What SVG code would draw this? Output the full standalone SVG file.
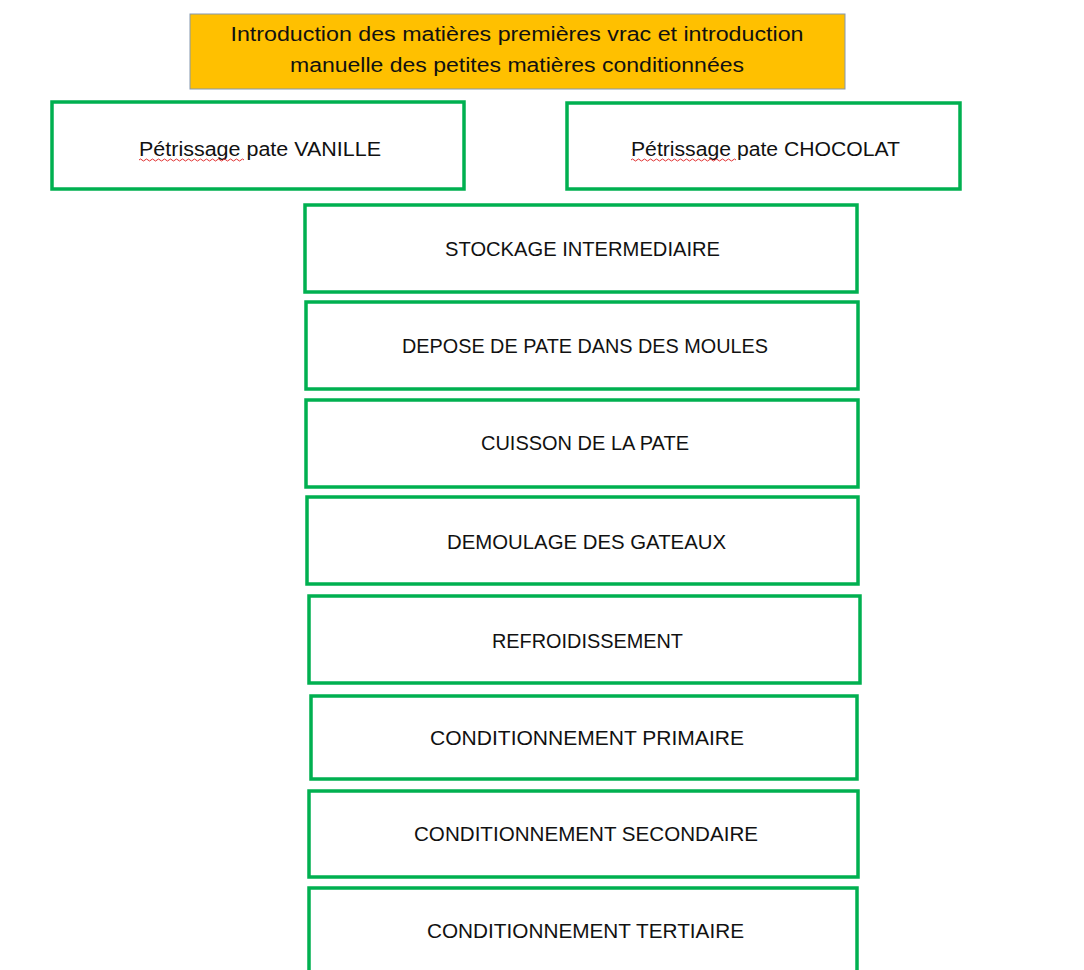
<svg xmlns="http://www.w3.org/2000/svg" width="1084" height="970" viewBox="0 0 1084 970">
<defs>
<style>
.box{fill:#ffffff;stroke:#00B050;stroke-width:3.5}
.t{font-family:"Liberation Sans","Open Sans",Arial,sans-serif;font-size:20px;fill:#111111;text-anchor:middle}
.squig{fill:none;stroke:#e03030;stroke-width:1}
</style>
</defs>
<rect width="1084" height="970" fill="#ffffff"/>
<g id="intro">
<rect x="190" y="14" width="655" height="75" fill="#FFC000" stroke="#8497B0" stroke-width="1"/>
<text class="t" x="517" y="41" textLength="573" lengthAdjust="spacingAndGlyphs">Introduction des matières premières vrac et introduction</text>
<text class="t" x="517" y="72" textLength="454" lengthAdjust="spacingAndGlyphs">manuelle des petites matières conditionnées</text>
</g>
<g id="vanille">
<rect class="box" x="52" y="102" width="412" height="87"/>
<text class="t" x="260" y="156" textLength="242" lengthAdjust="spacingAndGlyphs">Pétrissage pate VANILLE</text>
<path class="squig" d="M139 160 q1.5 -2 3 0 t3 0 t3 0 t3 0 t3 0 t3 0 t3 0 t3 0 t3 0 t3 0 t3 0 t3 0 t3 0 t3 0 t3 0 t3 0 t3 0 t3 0 t3 0 t3 0 t3 0 t3 0 t3 0 t3 0 t3 0 t3 0 t3 0 t3 0 t3 0 t3 0 t3 0 t3 0 t3 0 t3 0 t3 0"/>
</g>
<g id="chocolat">
<rect class="box" x="567" y="103" width="393" height="86"/>
<text class="t" x="765.5" y="156" textLength="269" lengthAdjust="spacingAndGlyphs">Pétrissage pate CHOCOLAT</text>
<path class="squig" d="M631 160 q1.5 -2 3 0 t3 0 t3 0 t3 0 t3 0 t3 0 t3 0 t3 0 t3 0 t3 0 t3 0 t3 0 t3 0 t3 0 t3 0 t3 0 t3 0 t3 0 t3 0 t3 0 t3 0 t3 0 t3 0 t3 0 t3 0 t3 0 t3 0 t3 0 t3 0 t3 0 t3 0 t3 0 t3 0 t3 0 t3 0"/>
</g>
<g id="stockage">
<rect class="box" x="305" y="205" width="552" height="87"/>
<text class="t" x="582.5" y="256" textLength="275" lengthAdjust="spacingAndGlyphs">STOCKAGE INTERMEDIAIRE</text>
</g>
<g id="depose">
<rect class="box" x="306" y="302" width="552" height="87"/>
<text class="t" x="585" y="353" textLength="366" lengthAdjust="spacingAndGlyphs">DEPOSE DE PATE DANS DES MOULES</text>
</g>
<g id="cuisson">
<rect class="box" x="306" y="400" width="552" height="87"/>
<text class="t" x="585" y="450" textLength="208" lengthAdjust="spacingAndGlyphs">CUISSON DE LA PATE</text>
</g>
<g id="demoulage">
<rect class="box" x="307" y="497" width="551" height="87"/>
<text class="t" x="586.5" y="549" textLength="279" lengthAdjust="spacingAndGlyphs">DEMOULAGE DES GATEAUX</text>
</g>
<g id="refroidissement">
<rect class="box" x="309" y="596" width="551" height="87"/>
<text class="t" x="587.5" y="648" textLength="191" lengthAdjust="spacingAndGlyphs">REFROIDISSEMENT</text>
</g>
<g id="primaire">
<rect class="box" x="311" y="696" width="546" height="83"/>
<text class="t" x="587" y="745" textLength="314" lengthAdjust="spacingAndGlyphs">CONDITIONNEMENT PRIMAIRE</text>
</g>
<g id="secondaire">
<rect class="box" x="309" y="791" width="549" height="86"/>
<text class="t" x="586" y="841" textLength="344" lengthAdjust="spacingAndGlyphs">CONDITIONNEMENT SECONDAIRE</text>
</g>
<g id="tertiaire">
<rect class="box" x="309" y="888" width="548" height="90"/>
<text class="t" x="585.5" y="938" textLength="317" lengthAdjust="spacingAndGlyphs">CONDITIONNEMENT TERTIAIRE</text>
</g>
<g id="connectors"></g>
</svg>
